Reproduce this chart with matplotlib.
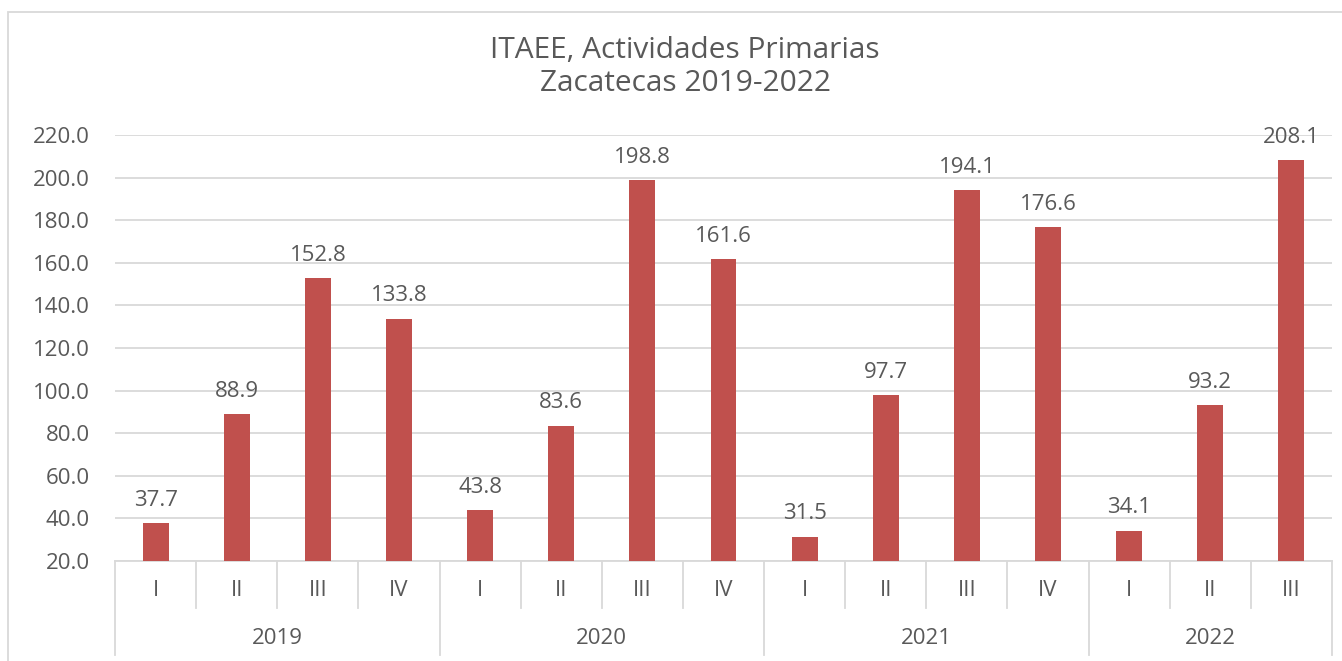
import matplotlib
matplotlib.use("Agg")
import matplotlib.pyplot as plt
from matplotlib.lines import Line2D
from matplotlib.patches import Rectangle

years = ["2019", "2020", "2021", "2022"]
quarters = ["I", "II", "III", "IV", "I", "II", "III", "IV", "I", "II", "III", "IV", "I", "II", "III"]
values = [37.7, 88.9, 152.8, 133.8, 43.8, 83.6, 198.8, 161.6, 31.5, 97.7, 194.1, 176.6, 34.1, 93.2, 208.1]
year_counts = [4, 4, 4, 3]
yticks = [20, 40, 60, 80, 100, 120, 140, 160, 180, 200, 220]

plt.rcParams['font.family'] = ['Open Sans', 'DejaVu Sans']
txt = "#595959"
grid = "#D9D9D9"
bar_color = "#C0504D"
fs = 16

W, H = 1342, 661
fig = plt.figure(figsize=(W / 100, H / 100), dpi=100)
fig.patches.append(Rectangle((8 / W, -0.01), 1.1, 1 - 12 / H + 0.01, transform=fig.transFigure,
                             fill=False, edgecolor=grid, linewidth=1.3))

ax = fig.add_axes([115 / W, 1 - 561 / H, (1332 - 115) / W, (561 - 135) / H])
n = len(values)
x = list(range(n))
ax.bar(x, values, width=0.32, color=bar_color, zorder=3)
ax.set_xlim(-0.5, n - 0.5)
ax.set_ylim(20, 220)
ax.set_yticks(yticks)
ax.set_yticklabels([f"{v:.1f}" for v in yticks], color=txt, fontsize=fs)
ax.tick_params(axis='y', length=0, pad=18)
ax.set_xticks([])
ax.yaxis.grid(True, color=grid, linewidth=1.3, zorder=0)
for s in ["top", "right", "left"]:
    ax.spines[s].set_visible(False)
ax.spines["bottom"].set_color(grid)
ax.spines["bottom"].set_linewidth(1.3)

for xi, v in zip(x, values):
    ax.annotate(f"{v:.1f}", (xi, v), xytext=(0, 9), textcoords="offset points",
                ha="center", va="bottom", color=txt, fontsize=fs)

# category axis
tr = ax.get_xaxis_transform()
ah = (561 - 135)
def yfrac(pix):
    return -(pix - 561) / ah

for xi, q in zip(x, quarters):
    ax.text(xi, yfrac(591), q, transform=tr, ha="center", va="center", color=txt, fontsize=fs)

start = 0
bounds = [-0.5]
for yr, c in zip(years, year_counts):
    center = start + (c - 1) / 2
    ax.text(center, yfrac(638), yr, transform=tr, ha="center", va="center", color=txt, fontsize=fs)
    start += c
    bounds.append(start - 0.5)

for b in range(n + 1):
    xb = b - 0.5
    if xb in bounds:
        y1 = yfrac(655)
    else:
        y1 = yfrac(608)
    ax.add_line(Line2D([xb, xb], [0, y1], transform=tr, color=grid, linewidth=1.3, clip_on=False))

fig.text(685 / W, 1 - 67 / H, "ITAEE, Actividades Primarias\nZacatecas 2019-2022", ha="center", va="center",
         color=txt, fontsize=21.5, linespacing=1.2)

fig.savefig("out.png", dpi=100)
